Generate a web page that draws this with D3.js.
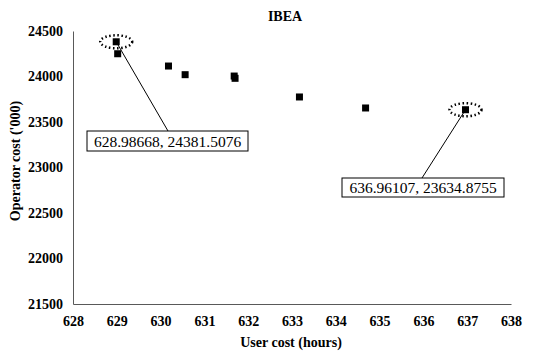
<!DOCTYPE html>
<html><head><meta charset="utf-8">
<script src="https://cdn.jsdelivr.net/npm/d3@7"></script>
<style>body{margin:0;background:#fff}</style></head>
<body><div id="chart"></div>
<script>
const userCost = [628.98668, 629.02, 630.18, 630.56, 631.68, 631.70, 633.17, 634.68, 636.96107];
const operatorCost = [24381.5076, 24250, 24115, 24020, 24005, 23980, 23775, 23654, 23634.8755];
const xTicks = [628,629,630,631,632,633,634,635,636,637,638];
const yTicks = [21500,22000,22500,23000,23500,24000,24500];
const annotated = [0, 8];
const labelOffsets = [[52, 90, 87, 131, 161, 20], [-62, 67, 342, 178, 162, 19]];

const W = 545, H = 356;
const svg = d3.select("#chart").append("svg").attr("width", W).attr("height", H);
const x = d3.scaleLinear().domain([628, 638]).range([73, 511]);
const y = d3.scaleLinear().domain([21500, 24500]).range([304, 31]);
const font = "'Liberation Serif','Times New Roman',serif";

svg.append("text").attr("x", 285).attr("y", 21).attr("text-anchor", "middle")
  .attr("font-family", font).attr("font-weight", "bold").attr("font-size", 14).text("IBEA");

const xa = svg.append("g").attr("transform", "translate(0,304)")
  .call(d3.axisBottom(x).tickValues(xTicks).tickSize(0).tickPadding(12).tickFormat(d3.format("d")));
const ya = svg.append("g").attr("transform", "translate(73,0)")
  .call(d3.axisLeft(y).tickValues(yTicks).tickSize(0).tickPadding(10).tickFormat(d3.format("d")));
[xa, ya].forEach(a => {
  a.select(".domain").attr("stroke", "#595959").attr("stroke-width", 1);
  a.selectAll("text").attr("font-family", font).attr("font-weight", "bold")
    .attr("font-size", 14).attr("fill", "#000");
});

svg.append("text").attr("x", 291).attr("y", 347).attr("text-anchor", "middle")
  .attr("font-family", font).attr("font-weight", "bold").attr("font-size", 14).text("User cost (hours)");
svg.append("text").attr("transform", "translate(20,161) rotate(-90)").attr("text-anchor", "middle")
  .attr("font-family", font).attr("font-weight", "bold").attr("font-size", 14).text("Operator cost ('000)");

const data = userCost.map((u, i) => ({u, o: operatorCost[i]}));
svg.append("g").selectAll("rect").data(data).join("rect")
  .attr("x", d => x(d.u) - 3.5).attr("y", d => y(d.o) - 3.5)
  .attr("width", 7).attr("height", 7).attr("fill", "#000");

annotated.forEach((idx, k) => {
  const d = data[idx];
  const px = x(d.u), py = y(d.o);
  const [, , bx, by, bw, bh] = labelOffsets[k];
  svg.append("ellipse").attr("cx", px).attr("cy", py).attr("rx", 16).attr("ry", 6.5)
    .attr("fill", "none").attr("stroke", "#000").attr("stroke-width", 2.5)
    .attr("stroke-dasharray", "1.5,2.5");
  const lx = k === 0 ? bx + 81 : bx + 80;
  svg.append("line").attr("x1", px).attr("y1", py).attr("x2", lx).attr("y2", by)
    .attr("stroke", "#000").attr("stroke-width", 1);
  svg.append("rect").attr("x", bx).attr("y", by).attr("width", bw).attr("height", bh)
    .attr("fill", "#fff").attr("stroke", "#000").attr("stroke-width", 1);
  svg.append("text").attr("x", bx + bw / 2).attr("y", by + bh / 2 + 5.5).attr("text-anchor", "middle")
    .attr("font-family", font).attr("font-size", 15.5).text(`${d.u}, ${d.o}`);
});
</script></body></html>
